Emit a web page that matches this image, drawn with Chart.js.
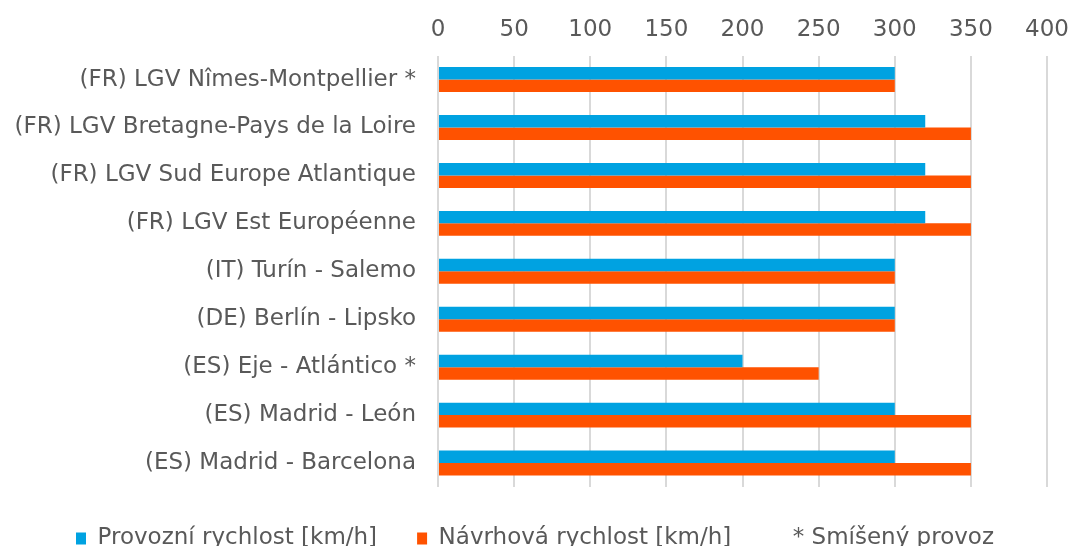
<!DOCTYPE html>
<html>
<head>
<meta charset="utf-8">
<script src="https://cdn.jsdelivr.net/npm/chart.js@4"></script>
<style>
    html, body { margin: 0; padding: 0; background: #fff; overflow: hidden; }
    #wrap { width: 1081px; height: 560px; position: relative; }
</style>
</head>
<body>
<div id="wrap"><canvas id="speedChart"></canvas></div>
<script>
const lines = [
    "(FR) LGV Nîmes-Montpellier *",
    "(FR) LGV Bretagne-Pays de la Loire",
    "(FR) LGV Sud Europe Atlantique",
    "(FR) LGV Est Européenne",
    "(IT) Turín - Salemo",
    "(DE) Berlín - Lipsko",
    "(ES) Eje - Atlántico *",
    "(ES) Madrid - León",
    "(ES) Madrid - Barcelona"
];
const operatingSpeed = [300, 320, 320, 320, 300, 300, 200, 300, 300];
const designSpeed = [300, 350, 350, 350, 300, 300, 250, 350, 350];
const seriesNames = ["Provozní rychlost [km/h]", "Návrhová rychlost [km/h]"];
const noteLabel = "* Smíšený provoz";

const textColor = '#595959';
const fontFamily = "'DejaVu Sans', Verdana, sans-serif";

const ctx = document.getElementById('speedChart').getContext('2d');
new Chart(ctx, {
    type: 'bar',
    data: {
        labels: lines,
        datasets: [
            {
                label: seriesNames[0],
                data: operatingSpeed,
                backgroundColor: '#00A2E1',
                categoryPercentage: 0.52,
                barPercentage: 1.0
            },
            {
                label: seriesNames[1],
                data: designSpeed,
                backgroundColor: '#FF5200',
                categoryPercentage: 0.52,
                barPercentage: 1.0
            }
        ]
    },
    options: {
        indexAxis: 'y',
        responsive: true,
        maintainAspectRatio: false,
        animation: false,
        layout: {
            padding: { top: 4, right: 11, left: 0, bottom: 0 }
        },
        plugins: {
            tooltip: { enabled: false },
            legend: {
                position: 'bottom',
                labels: {
                    color: textColor,
                    font: { family: fontFamily, size: 23 },
                    boxWidth: 10,
                    boxHeight: 12,
                    padding: 40,
                    generateLabels: function (chart) {
                        const items = Chart.defaults.plugins.legend.labels.generateLabels(chart);
                        // extra note entry without a colour box
                        items.push({
                            text: noteLabel,
                            fillStyle: 'rgba(0,0,0,0)',
                            strokeStyle: 'rgba(0,0,0,0)',
                            lineWidth: 0,
                            fontColor: textColor,
                            hidden: false,
                            datasetIndex: -1
                        });
                        return items;
                    }
                }
            }
        },
        scales: {
            x: {
                position: 'top',
                min: 0,
                max: 400,
                ticks: {
                    stepSize: 50,
                    color: textColor,
                    font: { family: fontFamily, size: 23 },
                    padding: 12
                },
                grid: {
                    color: '#D9D9D9',
                    lineWidth: 2,
                    drawTicks: false
                },
                border: { display: false }
            },
            y: {
                ticks: {
                    color: textColor,
                    font: { family: fontFamily, size: 23 },
                    padding: 22
                },
                grid: { display: false, drawTicks: false },
                border: { display: false },
                afterFit: function (scale) {
                    scale.width = 438;
                }
            }
        }
    }
});
</script>
</body>
</html>
